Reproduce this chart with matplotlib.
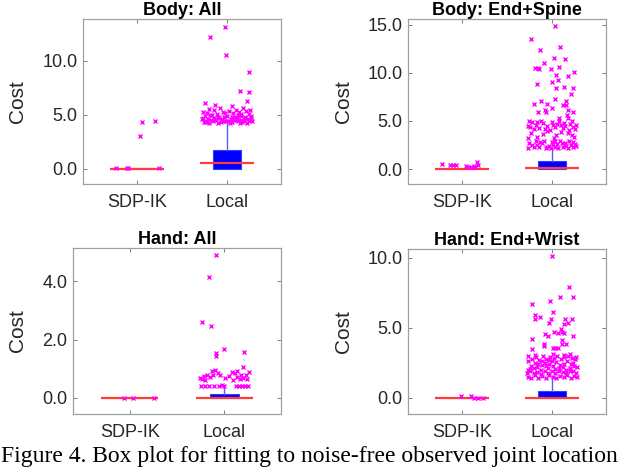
import matplotlib
matplotlib.use('Agg')
import matplotlib.pyplot as plt
from matplotlib.ticker import FormatStrFormatter
import numpy as np

plt.rcParams['font.family'] = ['Liberation Sans', 'DejaVu Sans']

groups = ['SDP-IK', 'Local']
titles = ['Body: All', 'Body: End+Spine', 'Hand: All', 'Hand: End+Wrist']
ylims = [(-1.4, 13.9), (-1.55, 15.6), (-0.55, 5.15), (-1.15, 10.65)]
yticks = [[0, 5, 10], [0, 5, 10, 15], [0, 2, 4], [0, 5, 10]]

# box stats per panel: (q1, median, q3, upper whisker) for SDP-IK and Local
box_sdp = [(0.0, 0.02, 0.05, 0.1), (0.0, 0.0, 0.02, 0.05),
           (0.0, 0.0, 0.0, 0.0), (0.0, 0.0, 0.0, 0.0)]
box_local = [(0.02, 0.52, 1.78, 4.25), (0.0, 0.14, 0.85, 2.1),
             (0.0, 0.01, 0.14, 0.39), (0.0, 0.0, 0.52, 1.4)]

# outliers as (horizontal jitter, cost)
tl_sdp = [(0.05, 4.35), (0.2, 4.47), (0.03, 3.03), (-0.24, 0.06), (-0.11, 0.08),
          (-0.10, 0.1), (0.24, 0.08)]
tl_local = [(-0.02, 13.15), (-0.19, 12.2), (-0.01, 10.55), (0.24, 9.0), (0.14, 7.25),
            (0.24, 7.15), (0.22, 6.3), (-0.24, 6.1), (-0.13, 5.9), (0.05, 5.8),
            (-0.2, 5.55), (0.18, 5.6), (-0.08, 5.65), (0.26, 5.5), (0.1, 5.45),
            (-0.15, 5.5), (-0.27, 5.3), (0.02, 5.35), (0.21, 5.4), (-0.05, 5.3),
            (0.13, 5.25), (-0.22, 5.15), (0.07, 5.2), (-0.11, 5.1), (0.25, 5.05),
            (-0.17, 5.0), (0.0, 4.95), (0.16, 4.95), (-0.25, 4.9), (0.09, 4.85),
            (-0.03, 4.8), (0.2, 4.8), (-0.14, 4.75), (0.27, 4.75), (-0.09, 4.7),
            (0.11, 4.7), (-0.21, 4.65), (0.04, 4.65), (0.23, 4.6), (-0.28, 4.6),
            (-0.06, 4.6), (0.15, 4.55), (-0.18, 4.55), (0.08, 4.5), (0.26, 4.5),
            (-0.12, 4.5), (0.01, 4.45), (-0.24, 4.45), (0.19, 4.45), (-0.01, 4.4),
            (0.12, 4.4), (-0.16, 4.4), (0.28, 4.4), (-0.07, 4.35), (0.06, 4.35),
            (-0.26, 4.35), (0.17, 4.35), (-0.1, 4.3), (0.22, 4.3), (-0.2, 4.3),
            (0.03, 4.3), (0.14, 4.3), (-0.23, 4.38), (0.24, 4.42), (-0.04, 4.48),
            (0.1, 4.52), (-0.15, 4.62), (0.2, 4.68), (-0.27, 4.72), (0.05, 4.78),
            (-0.1, 4.85), (0.27, 4.88), (0.16, 5.12), (-0.02, 5.18), (-0.19, 4.98),
            (0.12, 5.02)]
tr_sdp = [(-0.22, 0.52), (-0.13, 0.42), (-0.1, 0.38), (-0.07, 0.42), (0.04, 0.3),
          (0.07, 0.22), (0.1, 0.2), (0.13, 0.28), (0.17, 0.76), (0.18, 0.42),
          (0.15, 0.18)]
tr_local = [(0.04, 14.85), (-0.23, 13.47), (0.09, 12.64), (-0.13, 12.36), (0.15, 11.39),
            (0.02, 11.49), (-0.09, 10.97), (0.25, 10.04), (-0.19, 10.45), (-0.15, 10.52),
            (-0.14, 10.35), (-0.01, 10.35), (0.08, 10.62), (0.05, 9.76), (0.18, 9.66),
            (0.07, 9.24), (0.0, 9.07), (-0.16, 8.79), (0.24, 8.38), (0.05, 8.38),
            (0.14, 8.48), (0.21, 7.76), (0.03, 7.3), (0.16, 7.1), (-0.12, 7.06),
            (-0.2, 6.75), (-0.05, 6.72), (0.12, 6.61), (0.16, 6.61), (0.0, 6.3),
            (-0.08, 6.13), (-0.06, 5.95), (0.18, 6.13), (0.24, 5.92), (-0.15, 5.95),
            (0.17, 5.6), (0.18, 5.26), (0.08, 5.33),
            (-0.25, 5.0), (-0.22, 4.9), (-0.18, 4.6), (-0.27, 4.5), (-0.1, 4.75),
            (-0.05, 4.45), (0.01, 4.6), (0.06, 4.7), (0.1, 4.55), (0.14, 4.8),
            (0.2, 4.65), (0.23, 4.4), (0.26, 4.2), (-0.14, 4.3), (-0.2, 4.15),
            (0.04, 4.35), (0.12, 4.25), (-0.02, 4.05), (0.19, 4.05), (-0.24, 4.4),
            (-0.12, 4.95), (0.08, 5.0), (0.15, 4.45), (-0.08, 4.2), (0.22, 4.95),
            (-0.16, 4.85), (0.0, 4.9), (0.27, 4.6),
            (-0.23, 3.8), (-0.1, 3.6), (0.05, 3.5), (0.18, 3.75), (0.25, 3.3),
            (-0.17, 3.3), (0.1, 3.9), (-0.26, 3.25), (0.02, 3.2), (0.22, 3.55),
            (-0.05, 3.95),
            (-0.27, 2.2), (-0.22, 2.5), (-0.18, 2.9), (-0.14, 2.3), (-0.11, 2.7),
            (-0.07, 2.2), (-0.03, 2.45), (0.0, 2.85), (0.03, 2.25), (0.06, 2.6),
            (0.09, 2.9), (0.12, 2.35), (0.15, 2.7), (0.18, 2.2), (0.21, 2.5),
            (0.24, 2.85), (0.27, 2.4), (-0.25, 2.75), (-0.2, 2.25), (-0.16, 2.55),
            (-0.09, 2.95), (-0.05, 2.3), (0.01, 2.6), (0.07, 2.2), (0.11, 2.75),
            (0.16, 2.45), (0.19, 2.9), (0.26, 2.65), (-0.13, 2.85), (0.04, 2.95),
            (0.23, 2.25), (-0.01, 2.2)]
bl_sdp = [(-0.06, 0.01), (0.04, 0.01), (0.26, 0.01)]
bl_local = [(-0.09, 4.9), (-0.16, 4.15), (-0.23, 2.61), (-0.14, 2.48), (0.0, 1.69),
            (0.21, 1.57), (-0.09, 1.54), (-0.09, 1.45), (0.2, 1.05),
            (-0.26, 0.7), (-0.24, 0.65), (-0.21, 0.75), (-0.18, 0.8), (-0.15, 0.72),
            (-0.12, 0.78), (-0.1, 0.95), (-0.07, 0.85), (-0.04, 0.8), (0.01, 0.7),
            (0.05, 0.75), (0.08, 0.9), (0.11, 0.85), (0.14, 0.72), (0.17, 0.65),
            (0.2, 0.7), (0.23, 0.8), (0.26, 0.88), (-0.2, 0.6), (0.09, 0.62),
            (0.18, 0.78), (0.24, 0.66), (-0.13, 0.92), (0.14, 0.93),
            (-0.25, 0.42), (-0.2, 0.4), (-0.16, 0.41), (-0.11, 0.4), (-0.06, 0.42),
            (0.0, 0.4), (0.12, 0.42), (0.16, 0.4), (0.19, 0.41), (0.22, 0.42),
            (0.25, 0.4), (-0.02, 0.44)]
br_sdp = [(-0.01, 0.1), (0.1, 0.12), (0.13, 0.0), (0.18, 0.0), (0.23, 0.0)]
br_local = [(0.0, 10.14), (0.19, 7.9), (0.24, 7.19), (0.09, 7.21), (-0.02, 6.93),
            (-0.22, 6.69), (0.01, 6.12), (-0.19, 5.9), (-0.19, 5.64), (-0.13, 5.79),
            (-0.01, 5.62), (0.22, 5.62), (0.15, 5.64), (0.13, 5.29), (0.18, 5.33),
            (-0.03, 5.33), (0.02, 4.69), (0.07, 4.64), (0.11, 4.7), (0.14, 4.64),
            (0.1, 4.93), (-0.08, 4.55), (-0.04, 4.4), (0.24, 4.4), (-0.22, 4.21),
            (0.11, 4.1), (0.11, 3.86), (0.16, 3.83), (-0.09, 3.86), (-0.09, 3.69),
            (-0.22, 3.5), (0.01, 3.57), (0.04, 3.57), (0.07, 3.57), (0.2, 3.11),
            (-0.27, 1.5), (-0.26, 2.0), (-0.27, 2.6), (-0.26, 3.0), (-0.28, 1.8),
            (-0.23, 1.45), (-0.24, 1.9), (-0.23, 2.3), (-0.22, 2.8), (-0.24, 2.05),
            (-0.19, 1.6), (-0.2, 2.15), (-0.19, 2.5), (-0.18, 2.95), (-0.2, 1.75),
            (-0.19, 3.05), (-0.15, 1.4), (-0.16, 1.85), (-0.15, 2.4), (-0.14, 2.7),
            (-0.16, 2.2), (-0.11, 1.55), (-0.12, 2.0), (-0.11, 2.6), (-0.1, 3.0),
            (-0.12, 1.7), (-0.11, 2.35), (-0.07, 1.45), (-0.08, 1.95), (-0.07, 2.25),
            (-0.06, 2.8), (-0.08, 2.5), (-0.03, 1.6), (-0.04, 2.1), (-0.03, 2.7),
            (-0.02, 2.95), (-0.04, 1.8), (-0.03, 2.4), (0.01, 1.5), (0.0, 1.9),
            (0.01, 2.3), (0.02, 2.85), (0.0, 2.6), (0.01, 3.1), (0.05, 1.42),
            (0.04, 2.05), (0.05, 2.55), (0.06, 3.0), (0.04, 1.75), (0.09, 1.55),
            (0.08, 1.95), (0.09, 2.35), (0.1, 2.75), (0.08, 2.15), (0.13, 1.48),
            (0.12, 1.85), (0.13, 2.45), (0.14, 2.9), (0.12, 2.2), (0.13, 3.05),
            (0.17, 1.6), (0.16, 2.0), (0.17, 2.65), (0.18, 3.0), (0.16, 1.8),
            (0.21, 1.45), (0.2, 2.1), (0.21, 2.4), (0.22, 2.85), (0.2, 1.9),
            (0.25, 1.55), (0.24, 1.95), (0.25, 2.3), (0.26, 2.75), (0.24, 2.5),
            (0.28, 1.5), (0.27, 1.8), (0.28, 2.2), (0.27, 2.95)]
outliers = [(tl_sdp, tl_local), (tr_sdp, tr_local), (bl_sdp, bl_local), (br_sdp, br_local)]

rects = [(0.130, 0.610, 0.309, 0.350), (0.6375, 0.610, 0.309, 0.350),
         (0.114, 0.123, 0.325, 0.352), (0.6375, 0.123, 0.309, 0.350)]
label_x = [-0.283, -0.278, -0.221, -0.278]

fig = plt.figure(figsize=(6.4, 4.72), dpi=100)
pos = np.array([1, 2])
for k in range(4):
    ax = fig.add_axes(rects[k])
    stats = []
    for b in (box_sdp[k], box_local[k]):
        q1, med, q3, hi = b
        stats.append(dict(med=med, q1=q1, q3=q3, whislo=q1, whishi=hi, fliers=[]))
    ax.bxp(stats, positions=pos, widths=0.31, patch_artist=True, showcaps=False,
           showfliers=False,
           boxprops=dict(facecolor='#0000ff', edgecolor='#3a3aff', linewidth=0.8),
           whiskerprops=dict(color='#5a5aff', linewidth=1.0, linestyle='-'),
           medianprops=dict(visible=False))
    meds = [box_sdp[k][1], box_local[k][1]]
    ax.hlines(meds, pos - 0.3, pos + 0.3, color='#ff3b3b', linewidth=1.6, zorder=3)
    for i, pts in enumerate(outliers[k]):
        dx = np.array([p[0] for p in pts])
        vals = np.array([p[1] for p in pts])
        ax.plot(pos[i] + dx, vals, 'x', color='#ff00ff', markersize=3.0,
                markeredgewidth=1.0, zorder=4)
    ax.set_xlim(0.4, 2.6)
    ax.set_ylim(*ylims[k])
    ax.set_xticks(pos, groups)
    ax.set_yticks(yticks[k])
    ax.yaxis.set_major_formatter(FormatStrFormatter('%.1f'))
    ax.tick_params(direction='in', top=True, right=True, length=3, width=0.7,
                   color='#7f7f7f', labelcolor='#262626', labelsize=13)
    ax.tick_params(axis='x', pad=7)
    ax.tick_params(axis='y', pad=4)
    for s in ax.spines.values():
        s.set_color('#a0a0a0')
        s.set_linewidth(0.9)
    ax.set_ylabel('Cost', fontsize=15, color='#262626')
    ax.yaxis.set_label_coords(label_x[k], 0.5)
    ax.set_title(titles[k], fontsize=13, fontweight='bold', pad=3)

fig.text(0.002, 0.021, 'Figure 4. Box plot for fitting to noise-free observed joint location',
         family='Liberation Serif', fontsize=17, color='black')

fig.savefig('out.png', dpi=100)
